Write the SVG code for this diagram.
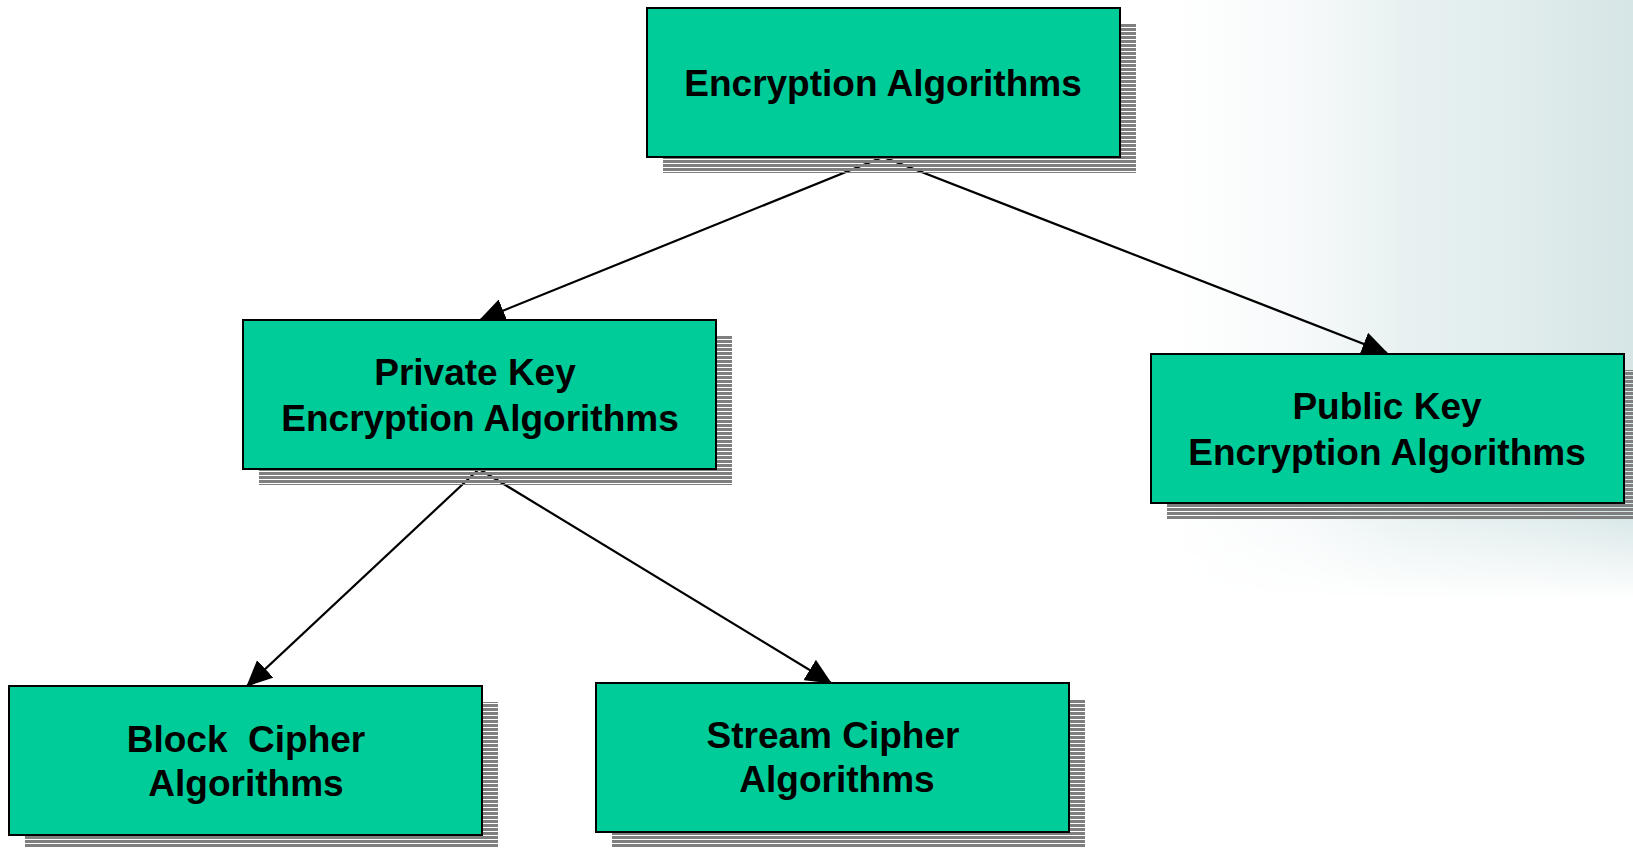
<svg xmlns="http://www.w3.org/2000/svg" width="1633" height="848" viewBox="0 0 1633 848">
  <style>
    .box { fill: #00CC99; stroke: #000; stroke-width: 2; }
    .shadow { fill: url(#stripes); }
    .label { font-family: "Liberation Sans", Arial, sans-serif; font-weight: bold; font-size: 37px; fill: #000; text-anchor: middle; }
    .conn { stroke: #000; stroke-width: 2.2; fill: none; marker-end: url(#arrow); }
  </style>
  <defs>
    <pattern id="stripes" patternUnits="userSpaceOnUse" width="8" height="4">
      <rect x="0" y="0" width="8" height="3" fill="#7f7f7f"/>
    </pattern>
    <marker id="arrow" markerUnits="userSpaceOnUse" markerWidth="26" markerHeight="24" refX="25" refY="12" orient="auto">
      <path d="M0,0 L26,12 L0,24 Z" fill="#000"/>
    </marker>
    <linearGradient id="bgH" x1="1170" y1="0" x2="1633" y2="0" gradientUnits="userSpaceOnUse">
      <stop offset="0" stop-color="#ffffff"/>
      <stop offset="0.3" stop-color="#f6f9fa"/>
      <stop offset="0.5" stop-color="#e8f1f1"/>
      <stop offset="0.8" stop-color="#dfebeb"/>
      <stop offset="1" stop-color="#d6e5e6"/>
    </linearGradient>
    <linearGradient id="fadeV" x1="0" y1="0" x2="0" y2="600" gradientUnits="userSpaceOnUse">
      <stop offset="0" stop-color="#fff"/>
      <stop offset="0.85" stop-color="#fff"/>
      <stop offset="1" stop-color="#000"/>
    </linearGradient>
    <mask id="bgMask" maskUnits="userSpaceOnUse" x="1000" y="0" width="633" height="600">
      <rect x="1000" y="0" width="633" height="600" fill="url(#fadeV)"/>
    </mask>
  </defs>

  <rect x="0" y="0" width="1633" height="848" fill="#ffffff"/>
  <rect x="1170" y="0" width="463" height="600" fill="url(#bgH)" mask="url(#bgMask)"/>

  <g id="connectors">
    <line class="conn" x1="883" y1="157" x2="480" y2="320"/>
    <line class="conn" x1="883" y1="157" x2="1387" y2="353"/>
    <line class="conn" x1="479" y1="469" x2="247" y2="686"/>
    <line class="conn" x1="479" y1="469" x2="831" y2="683"/>
  </g>

  <g id="node-encryption">
    <rect class="shadow" x="663" y="24" width="473" height="149"/>
    <rect class="box" x="647" y="8" width="473" height="149"/>
    <text class="label" x="883" y="96">Encryption Algorithms</text>
  </g>

  <g id="node-private">
    <rect class="shadow" x="259" y="336" width="473" height="149"/>
    <rect class="box" x="243" y="320" width="473" height="149"/>
    <text class="label" x="475" y="385">Private Key</text>
    <text class="label" x="480" y="431">Encryption Algorithms</text>
  </g>

  <g id="node-public">
    <rect class="shadow" x="1167" y="370" width="473" height="149"/>
    <rect class="box" x="1151" y="354" width="473" height="149"/>
    <text class="label" x="1387" y="419">Public Key</text>
    <text class="label" x="1387" y="465">Encryption Algorithms</text>
  </g>

  <g id="node-block">
    <rect class="shadow" x="25" y="702" width="473" height="149"/>
    <rect class="box" x="9" y="686" width="473" height="149"/>
    <text class="label" x="246" y="752" xml:space="preserve">Block  Cipher</text>
    <text class="label" x="246" y="796">Algorithms</text>
  </g>

  <g id="node-stream">
    <rect class="shadow" x="612" y="699" width="473" height="149"/>
    <rect class="box" x="596" y="683" width="473" height="149"/>
    <text class="label" x="833" y="748">Stream Cipher</text>
    <text class="label" x="837" y="792">Algorithms</text>
  </g>
</svg>
